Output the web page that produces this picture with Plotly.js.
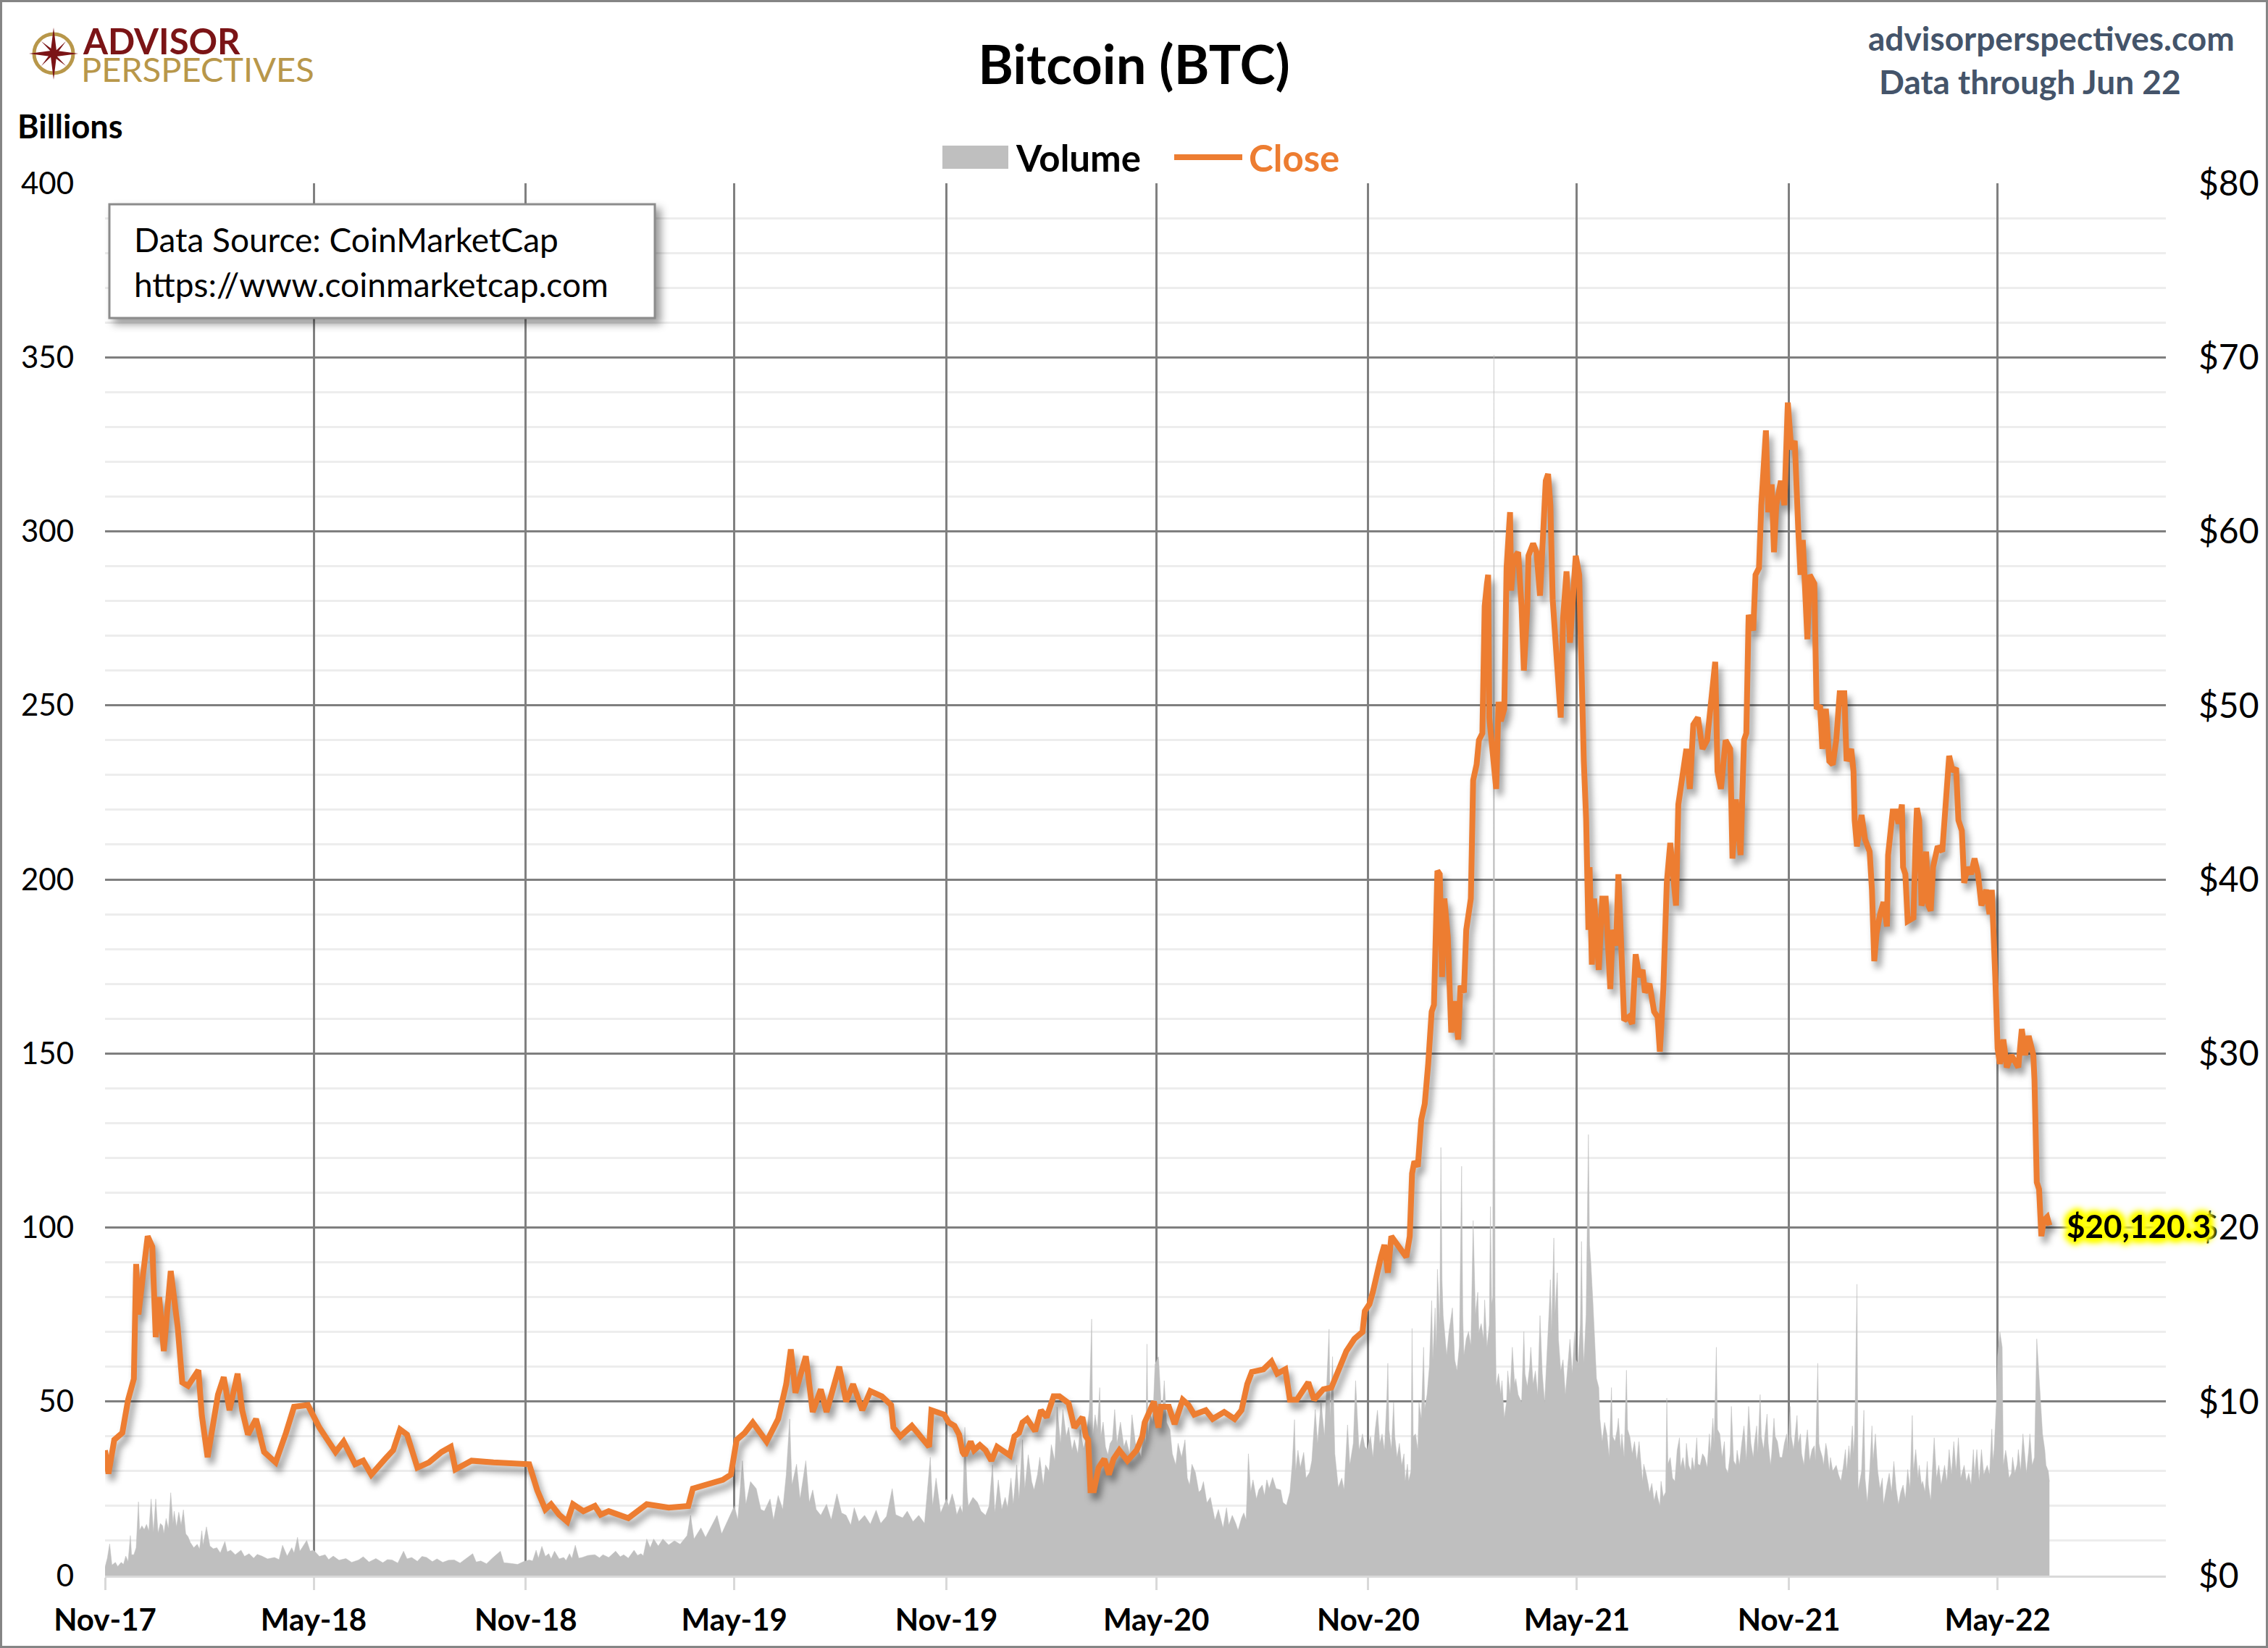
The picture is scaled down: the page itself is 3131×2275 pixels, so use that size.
<!DOCTYPE html>
<html><head><meta charset="utf-8">
<script src="https://cdn.plot.ly/plotly-3.0.1.min.js"></script>
<style>
html,body{margin:0;padding:0;background:#fff;}
#wrap{position:relative;width:3131px;height:2275px;}
#chart{width:3131px;height:2275px;}
#frame{position:absolute;left:0;top:0;width:3131px;height:2275px;box-sizing:border-box;border:3px solid #858585;pointer-events:none;}
</style>
</head><body>
<div id="wrap"><div id="chart"></div><div id="frame"></div></div>
<script>
// ---------------- DATA ----------------
const chartTitle = 'Bitcoin (BTC)';
const seriesNames = ['Volume', 'Close'];
const leftAxisLabel = 'Billions';
const siteLabel = 'advisorperspectives.com';
const dataThroughLabel = 'Data through Jun 22';
const sourceLines = ['Data Source: CoinMarketCap', 'https://www.coinmarketcap.com'];
const lastCloseLabel = '$20,120.3';
const xRange = ['2017-11-01', '2022-09-24'];

// Close price, thousands of US$ (right axis)
const closeDates = [
'2017-11-01','2017-11-04','2017-11-09','2017-11-16','2017-11-21','2017-11-26','2017-11-28','2017-11-30','2017-12-04','2017-12-08',
'2017-12-12','2017-12-15','2017-12-18','2017-12-22','2017-12-28','2018-01-03','2018-01-07','2018-01-12','2018-01-21','2018-01-24',
'2018-01-29','2018-02-03','2018-02-07','2018-02-12','2018-02-17','2018-02-24','2018-02-28','2018-03-05','2018-03-12','2018-03-19',
'2018-03-29','2018-04-07','2018-04-14','2018-04-26','2018-05-06','2018-05-13','2018-05-20','2018-05-27','2018-06-06','2018-06-13',
'2018-06-20','2018-07-02','2018-07-09','2018-07-15','2018-07-21','2018-07-30','2018-08-09','2018-08-20','2018-08-28','2018-09-01',
'2018-09-15','2018-10-04','2018-10-23','2018-11-04','2018-11-11','2018-11-18','2018-11-23','2018-11-30','2018-12-07','2018-12-12',
'2018-12-21','2018-12-31','2019-01-05','2019-01-12','2019-01-29','2019-02-14','2019-03-05','2019-03-22','2019-03-26','2019-04-07',
'2019-04-21','2019-04-28','2019-05-03','2019-05-10','2019-05-17','2019-05-29','2019-06-08','2019-06-15','2019-06-19','2019-06-23',
'2019-06-28','2019-07-02','2019-07-08','2019-07-15','2019-07-20','2019-07-31','2019-08-06','2019-08-12','2019-08-20','2019-08-27',
'2019-09-06','2019-09-14','2019-09-16','2019-09-22','2019-10-02','2019-10-11','2019-10-17','2019-10-19','2019-10-30',
'2019-11-03','2019-11-08','2019-11-12','2019-11-15','2019-11-17','2019-11-22','2019-11-25','2019-11-30','2019-12-05','2019-12-10',
'2019-12-15','2019-12-20','2019-12-26','2019-12-30','2020-01-03','2020-01-06','2020-01-10','2020-01-17','2020-01-22','2020-01-27',
'2020-02-02','2020-02-07','2020-02-15','2020-02-20','2020-02-27','2020-03-01','2020-03-03','2020-03-05','2020-03-08','2020-03-12',
'2020-03-17','2020-03-21','2020-03-25','2020-03-30','2020-04-06','2020-04-14','2020-04-19','2020-04-21','2020-04-29','2020-05-03',
'2020-05-05','2020-05-12','2020-05-17','2020-05-24','2020-05-29','2020-06-03','2020-06-13','2020-06-19','2020-06-29','2020-07-08',
'2020-07-14','2020-07-19','2020-07-23','2020-08-02','2020-08-09','2020-08-14','2020-08-21','2020-08-25','2020-08-31','2020-09-10',
'2020-09-15','2020-09-23','2020-09-30','2020-10-05','2020-10-13','2020-10-20',
'2020-10-27','2020-10-29','2020-11-02','2020-11-05','2020-11-09','2020-11-12','2020-11-15','2020-11-18','2020-11-21','2020-11-24',
'2020-11-27','2020-12-01','2020-12-04','2020-12-07','2020-12-09','2020-12-11','2020-12-14','2020-12-17','2020-12-20','2020-12-23',
'2020-12-26','2020-12-28','2020-12-31','2021-01-02','2021-01-04','2021-01-06','2021-01-09','2021-01-12','2021-01-15','2021-01-18',
'2021-01-20','2021-01-23','2021-01-25','2021-01-29','2021-01-31','2021-02-03','2021-02-05','2021-02-08','2021-02-09','2021-02-10',
'2021-02-12','2021-02-13','2021-02-14','2021-02-17','2021-02-20','2021-02-22','2021-02-24','2021-02-27','2021-03-01','2021-03-04',
'2021-03-05','2021-03-07','2021-03-11','2021-03-14','2021-03-16','2021-03-19','2021-03-20','2021-03-24','2021-03-27','2021-03-30',
'2021-04-01','2021-04-04','2021-04-06','2021-04-08','2021-04-10','2021-04-14','2021-04-17','2021-04-19','2021-04-22','2021-04-25',
'2021-04-27','2021-04-30','2021-05-03','2021-05-05','2021-05-07','2021-05-09','2021-05-11','2021-05-12','2021-05-14','2021-05-16',
'2021-05-20','2021-05-23','2021-05-26','2021-05-28','2021-05-30','2021-06-01','2021-06-04','2021-06-06','2021-06-09','2021-06-11',
'2021-06-15','2021-06-18','2021-06-21','2021-06-24','2021-06-27','2021-06-29','2021-07-03','2021-07-07','2021-07-10','2021-07-12',
'2021-07-15','2021-07-18','2021-07-21','2021-07-26','2021-07-28','2021-08-01','2021-08-04','2021-08-07','2021-08-10','2021-08-14',
'2021-08-18','2021-08-22','2021-08-26','2021-08-29','2021-08-31','2021-09-03','2021-09-07','2021-09-11','2021-09-13','2021-09-16',
'2021-09-20','2021-09-23','2021-09-25','2021-09-27','2021-10-01','2021-10-03','2021-10-06','2021-10-08','2021-10-12','2021-10-14',
'2021-10-17','2021-10-19','2021-10-21','2021-10-25','2021-10-28','2021-10-31','2021-11-03','2021-11-06',
'2021-11-09','2021-11-11','2021-11-13','2021-11-15','2021-11-17','2021-11-19','2021-11-23','2021-11-25','2021-11-28','2021-11-30',
'2021-12-03','2021-12-06','2021-12-09','2021-12-12','2021-12-15','2021-12-19','2021-12-21','2021-12-25','2021-12-27','2021-12-28',
'2021-12-30','2022-01-03','2022-01-06','2022-01-10','2022-01-12','2022-01-14','2022-01-16','2022-01-19','2022-01-22','2022-01-25',
'2022-01-26','2022-01-30','2022-02-02','2022-02-04','2022-02-07','2022-02-08','2022-02-10','2022-02-12','2022-02-17','2022-02-19',
'2022-02-20','2022-02-22','2022-02-24','2022-02-26','2022-02-28','2022-03-02','2022-03-04','2022-03-06','2022-03-10','2022-03-14',
'2022-03-16','2022-03-18','2022-03-20','2022-03-23','2022-03-26','2022-03-28','2022-03-31','2022-04-02','2022-04-05','2022-04-08',
'2022-04-11','2022-04-14','2022-04-17','2022-04-21','2022-04-24','2022-04-26','2022-04-27','2022-04-29','2022-05-01','2022-05-03',
'2022-05-06','2022-05-09','2022-05-13','2022-05-16','2022-05-19','2022-05-22','2022-05-25','2022-05-28','2022-06-01','2022-06-02',
'2022-06-04','2022-06-06','2022-06-08','2022-06-10','2022-06-13','2022-06-15'];
const closeValues = [
7.2,5.85,7.8,8.2,10.1,11.3,17.9,15.0,17.3,19.5,
18.9,13.7,16.0,12.9,17.5,14.3,11.1,10.9,11.8,9.2,
6.8,8.7,10.4,11.4,9.5,11.6,9.5,8.1,9.0,7.1,
6.5,8.2,9.7,9.8,8.5,7.8,7.1,7.7,6.4,6.6,
5.8,6.7,7.2,8.4,8.1,6.2,6.5,7.1,7.4,6.1,
6.6,6.5,6.4,6.4,4.9,3.8,4.1,3.5,3.1,4.1,
3.7,4.0,3.5,3.7,3.3,4.1,3.9,4.0,5.0,5.2,
5.5,5.8,7.8,8.2,8.8,7.7,9.0,11.0,13.0,10.5,
11.8,12.6,9.4,10.7,9.4,12.0,10.0,11.0,9.5,10.6,
10.3,9.8,8.5,8.0,8.6,7.95,7.4,9.5,9.25,
8.8,8.6,8.1,7.1,6.9,7.7,7.2,7.5,7.2,6.6,
7.4,7.2,6.9,8.0,8.2,8.8,9.0,8.3,9.5,9.1,
10.3,10.3,9.9,8.5,9.1,8.0,7.8,4.9,4.9,6.2,
6.7,5.8,6.7,7.2,6.6,7.2,8.0,8.8,10.0,8.5,
9.7,9.7,8.7,10.1,9.8,9.25,9.5,9.0,9.4,9.0,
9.5,11.0,11.7,11.85,12.3,11.6,11.85,10.1,10.1,11.1,
10.1,10.7,10.8,11.6,12.9,13.6,
14.0,15.2,15.6,16.3,17.6,18.3,19.0,17.4,19.5,19.2,
19.0,18.6,18.3,19.5,23.1,23.8,23.5,26.2,27.1,29.4,
32.4,32.8,40.5,40.3,34.4,38.9,36.7,31.2,33.0,30.8,
33.9,33.5,37.1,38.9,45.7,46.6,48.0,48.4,52.0,55.7,
57.0,57.5,49.3,47.1,45.2,50.2,49.1,49.8,57.9,61.1,
56.6,58.4,58.8,55.7,52.0,55.7,58.6,59.3,58.8,56.3,
59.7,62.9,63.3,61.5,56.1,51.6,49.3,55.0,57.7,53.6,
56.1,58.6,57.5,49.8,46.8,43.5,37.1,40.7,35.1,38.9,
34.8,38.9,38.9,36.2,33.7,37.1,36.2,40.3,35.7,31.9,
32.1,31.7,35.7,34.4,34.8,33.5,34.0,32.4,32.1,30.1,
33.7,39.8,42.1,38.5,44.3,46.2,47.5,45.2,48.9,49.3,
47.5,48.0,50.2,52.5,46.2,45.2,48.0,47.5,41.2,44.6,
41.4,48.0,48.4,55.2,54.3,57.5,57.9,61.5,65.8,61.1,
62.7,58.8,61.5,62.9,61.5,67.4,64.7,65.2,
60.2,57.5,59.5,57.0,53.8,57.5,57.0,49.8,50.0,47.5,
49.8,46.8,46.6,48.0,50.7,50.7,46.8,47.5,46.2,43.4,
41.9,43.7,42.3,41.6,39.4,35.3,36.9,38.0,38.7,37.3,
41.4,43.9,43.9,43.2,44.3,40.7,40.3,37.6,37.8,42.5,
44.1,43.4,38.5,38.9,41.6,38.5,38.2,40.7,41.9,41.6,
43.9,45.5,47.1,46.2,46.4,43.4,42.8,39.8,40.7,40.3,
41.2,40.3,38.5,39.4,38.0,39.4,36.7,34.4,30.3,29.4,
30.8,29.2,29.9,29.6,29.2,31.4,29.9,31.0,29.9,28.5,
22.6,22.2,19.5,20.4,20.6,20.12];

// Volume, billions of US$ (left axis)
const volumeDates = [
'2017-11-01','2017-11-03','2017-11-05','2017-11-07','2017-11-10','2017-11-12','2017-11-15','2017-11-17','2017-11-19','2017-11-21',
'2017-11-23','2017-11-24','2017-11-26','2017-11-28','2017-11-30','2017-12-01','2017-12-03','2017-12-05','2017-12-07','2017-12-09',
'2017-12-11','2017-12-13','2017-12-15','2017-12-17','2017-12-19','2017-12-21','2017-12-22','2017-12-24','2017-12-26','2017-12-28',
'2017-12-30','2017-12-31','2018-01-02','2018-01-04','2018-01-06','2018-01-08','2018-01-10','2018-01-12','2018-01-14','2018-01-17',
'2018-01-20','2018-01-22','2018-01-24','2018-01-25','2018-01-28','2018-01-31','2018-02-03','2018-02-06','2018-02-09','2018-02-13',
'2018-02-15','2018-02-18','2018-02-22','2018-02-27','2018-03-02','2018-03-06','2018-03-10','2018-03-13','2018-03-17','2018-03-22',
'2018-03-28','2018-04-01','2018-04-04','2018-04-08','2018-04-12','2018-04-14','2018-04-17','2018-04-19','2018-04-21','2018-04-25',
'2018-04-28','2018-05-01','2018-05-06','2018-05-11','2018-05-14','2018-05-18','2018-05-23','2018-05-29','2018-06-03','2018-06-09',
'2018-06-13','2018-06-18','2018-06-24','2018-06-30','2018-07-04','2018-07-08','2018-07-13','2018-07-18','2018-07-21','2018-07-25',
'2018-07-30','2018-08-03','2018-08-07','2018-08-12','2018-08-16','2018-08-21','2018-08-26','2018-08-31','2018-09-05','2018-09-10',
'2018-09-16','2018-09-19','2018-09-23','2018-09-28','2018-10-03','2018-10-10','2018-10-13','2018-10-19','2018-10-25','2018-10-30',
'2018-11-04','2018-11-07','2018-11-10','2018-11-12','2018-11-15','2018-11-18','2018-11-21','2018-11-23','2018-11-26','2018-11-30',
'2018-12-04','2018-12-06','2018-12-09','2018-12-11','2018-12-14','2018-12-17','2018-12-20','2018-12-25','2018-12-31','2019-01-04',
'2019-01-07','2019-01-12','2019-01-18','2019-01-22','2019-01-25','2019-01-29','2019-02-03','2019-02-06','2019-02-09','2019-02-11',
'2019-02-14','2019-02-17','2019-02-20',
'2019-02-24','2019-02-28','2019-03-05','2019-03-10','2019-03-15','2019-03-21','2019-03-24','2019-03-27','2019-04-02','2019-04-06',
'2019-04-10','2019-04-16','2019-04-20','2019-04-25','2019-05-01','2019-05-04','2019-05-08','2019-05-11','2019-05-15','2019-05-20',
'2019-05-24','2019-05-27','2019-06-01','2019-06-04','2019-06-08','2019-06-12','2019-06-15','2019-06-18','2019-06-20','2019-06-24',
'2019-06-27','2019-07-02','2019-07-05','2019-07-08','2019-07-11','2019-07-15','2019-07-20','2019-07-24','2019-07-29','2019-08-02',
'2019-08-06','2019-08-10','2019-08-13','2019-08-17','2019-08-22','2019-08-27','2019-09-01','2019-09-05','2019-09-10','2019-09-15',
'2019-09-18','2019-09-24','2019-09-28','2019-10-03','2019-10-08','2019-10-13','2019-10-18','2019-10-20','2019-10-23','2019-10-27',
'2019-11-01','2019-11-03','2019-11-06','2019-11-08','2019-11-10','2019-11-13','2019-11-15','2019-11-17','2019-11-19','2019-11-20',
'2019-11-24','2019-11-28','2019-12-01','2019-12-05','2019-12-08','2019-12-11','2019-12-13','2019-12-16','2019-12-19','2019-12-22',
'2019-12-24','2019-12-27','2019-12-29','2020-01-01','2020-01-03','2020-01-06','2020-01-08','2020-01-11','2020-01-14','2020-01-16',
'2020-01-19','2020-01-21','2020-01-24','2020-01-26','2020-01-29','2020-01-31','2020-02-03','2020-02-05','2020-02-08','2020-02-10',
'2020-02-13','2020-02-15','2020-02-18','2020-02-20','2020-02-23','2020-02-25','2020-02-28','2020-03-01','2020-03-04','2020-03-06',
'2020-03-07','2020-03-09','2020-03-11','2020-03-13','2020-03-14','2020-03-16','2020-03-18','2020-03-20','2020-03-22','2020-03-24',
'2020-03-26','2020-03-28','2020-03-31','2020-04-03','2020-04-05','2020-04-08','2020-04-10','2020-04-13','2020-04-15','2020-04-18',
'2020-04-20','2020-04-22','2020-04-23','2020-04-24','2020-04-26','2020-04-28','2020-04-30','2020-05-03','2020-05-05','2020-05-06',
'2020-05-08','2020-05-10','2020-05-13','2020-05-15','2020-05-18','2020-05-20','2020-05-23','2020-05-26','2020-05-28','2020-05-30',
'2020-06-01','2020-06-04','2020-06-07','2020-06-09','2020-06-11','2020-06-14','2020-06-17','2020-06-21','2020-06-24','2020-06-28',
'2020-07-01','2020-07-03','2020-07-06','2020-07-09','2020-07-11','2020-07-14','2020-07-16','2020-07-18','2020-07-20','2020-07-22',
'2020-07-24','2020-07-27','2020-07-29','2020-08-01','2020-08-03','2020-08-05','2020-08-07','2020-08-10','2020-08-13','2020-08-17',
'2020-08-19','2020-08-22','2020-08-25','2020-08-27','2020-08-29','2020-08-30','2020-09-01','2020-09-03','2020-09-06','2020-09-08',
'2020-09-11','2020-09-13','2020-09-16','2020-09-18','2020-09-21','2020-09-24','2020-09-28','2020-09-29','2020-10-01','2020-10-03',
'2020-10-06','2020-10-09','2020-10-11','2020-10-14','2020-10-16','2020-10-19','2020-10-21','2020-10-24',
'2020-10-27','2020-10-29','2020-10-31','2020-11-03','2020-11-05','2020-11-07','2020-11-09','2020-11-11','2020-11-13','2020-11-15',
'2020-11-17','2020-11-18','2020-11-19','2020-11-21','2020-11-23','2020-11-24','2020-11-26','2020-11-28','2020-11-30','2020-12-02',
'2020-12-03','2020-12-05','2020-12-06','2020-12-08','2020-12-09','2020-12-10','2020-12-12','2020-12-14','2020-12-15','2020-12-17',
'2020-12-19','2020-12-20','2020-12-22','2020-12-24','2020-12-26','2020-12-27','2020-12-29','2020-12-30','2020-12-31','2021-01-02',
'2021-01-03','2021-01-04','2021-01-05','2021-01-07','2021-01-08','2021-01-10','2021-01-13','2021-01-15','2021-01-17','2021-01-19',
'2021-01-21','2021-01-22','2021-01-23','2021-01-25','2021-01-27','2021-01-29','2021-01-31','2021-02-02','2021-02-04','2021-02-05',
'2021-02-07','2021-02-09','2021-02-10','2021-02-12','2021-02-14','2021-02-15','2021-02-16','2021-02-17','2021-02-18','2021-02-19',
'2021-02-20','2021-02-22','2021-02-24','2021-02-25','2021-02-27','2021-03-01','2021-03-02','2021-03-04','2021-03-06','2021-03-08',
'2021-03-09','2021-03-11','2021-03-14','2021-03-16','2021-03-17','2021-03-19','2021-03-21','2021-03-22','2021-03-24','2021-03-26',
'2021-03-28','2021-03-30','2021-04-01','2021-04-03','2021-04-05','2021-04-07','2021-04-08','2021-04-09','2021-04-11','2021-04-12',
'2021-04-14','2021-04-15','2021-04-17','2021-04-19','2021-04-21','2021-04-23','2021-04-25','2021-04-27','2021-04-29','2021-04-30',
'2021-05-02','2021-05-04','2021-05-05','2021-05-06','2021-05-07','2021-05-09','2021-05-11','2021-05-12','2021-05-13','2021-05-15',
'2021-05-18','2021-05-20','2021-05-21','2021-05-23','2021-05-25','2021-05-27','2021-05-29','2021-05-31','2021-06-01','2021-06-03',
'2021-06-05','2021-06-06','2021-06-08','2021-06-09','2021-06-11','2021-06-13','2021-06-14','2021-06-16','2021-06-18','2021-06-20',
'2021-06-22','2021-06-24','2021-06-25','2021-06-27','2021-06-28','2021-06-30','2021-07-02','2021-07-03','2021-07-05','2021-07-07',
'2021-07-09','2021-07-10','2021-07-12','2021-07-13','2021-07-15','2021-07-17','2021-07-18','2021-07-19','2021-07-21','2021-07-23',
'2021-07-25','2021-07-27','2021-07-29','2021-07-30','2021-08-01','2021-08-03','2021-08-04','2021-08-06','2021-08-08','2021-08-09',
'2021-08-11','2021-08-13','2021-08-14','2021-08-16','2021-08-18','2021-08-20','2021-08-22','2021-08-24','2021-08-25','2021-08-27',
'2021-08-28','2021-08-30','2021-08-31','2021-09-02','2021-09-04','2021-09-06','2021-09-07','2021-09-09','2021-09-11','2021-09-12',
'2021-09-14','2021-09-16','2021-09-17','2021-09-19','2021-09-21','2021-09-23','2021-09-25','2021-09-27','2021-09-29','2021-10-01',
'2021-10-02','2021-10-04','2021-10-05','2021-10-07','2021-10-08','2021-10-10','2021-10-11','2021-10-13','2021-10-14','2021-10-16',
'2021-10-17','2021-10-19','2021-10-20','2021-10-22','2021-10-24','2021-10-26','2021-10-28','2021-10-30','2021-10-31','2021-11-02',
'2021-11-03','2021-11-05',
'2021-11-08','2021-11-09','2021-11-11','2021-11-12','2021-11-14','2021-11-15','2021-11-17','2021-11-19','2021-11-21','2021-11-23',
'2021-11-24','2021-11-26','2021-11-27','2021-11-28','2021-11-30','2021-12-01','2021-12-03','2021-12-04','2021-12-06','2021-12-07',
'2021-12-09','2021-12-12','2021-12-14','2021-12-16','2021-12-18','2021-12-20','2021-12-21','2021-12-23','2021-12-24','2021-12-26',
'2021-12-27','2021-12-28','2021-12-30','2021-12-31','2022-01-03','2022-01-05','2022-01-06','2022-01-08','2022-01-10','2022-01-12',
'2022-01-13','2022-01-15','2022-01-17','2022-01-19','2022-01-21','2022-01-22','2022-01-25','2022-01-27','2022-01-29','2022-01-31',
'2022-02-02','2022-02-04','2022-02-06','2022-02-08','2022-02-10','2022-02-12','2022-02-14','2022-02-16','2022-02-17','2022-02-19',
'2022-02-21','2022-02-22','2022-02-24','2022-02-25','2022-02-27','2022-03-01','2022-03-02','2022-03-04','2022-03-05','2022-03-07',
'2022-03-09','2022-03-11','2022-03-13','2022-03-16','2022-03-18','2022-03-20','2022-03-22','2022-03-24','2022-03-26','2022-03-28',
'2022-03-30','2022-04-02','2022-04-04','2022-04-06','2022-04-08','2022-04-10','2022-04-11','2022-04-13','2022-04-15','2022-04-17',
'2022-04-19','2022-04-22','2022-04-24','2022-04-26','2022-04-27','2022-04-28','2022-04-30','2022-05-01','2022-05-03','2022-05-05',
'2022-05-06','2022-05-08','2022-05-09','2022-05-11','2022-05-13','2022-05-14','2022-05-16','2022-05-18','2022-05-19','2022-05-21',
'2022-05-23','2022-05-25','2022-05-26','2022-05-28','2022-05-29','2022-05-31','2022-06-02','2022-06-04','2022-06-06','2022-06-08',
'2022-06-09','2022-06-11','2022-06-12','2022-06-14','2022-06-15'];
const volumeValues = [
2.4,5.0,9.1,3.0,3.8,2.6,3.8,3.2,5.6,4.0,
11.5,6.0,6.0,8.0,21.2,13.0,14.3,13.2,14.7,12.8,
22.0,12.5,22.0,12.2,15.0,14.3,12.0,16.4,13.5,23.8,
15.0,18.5,14.0,18.2,14.5,18.9,12.0,11.2,9.5,8.0,
9.0,7.6,12.9,8.7,14.0,8.5,7.7,8.0,6.5,9.8,
6.8,7.3,6.0,7.3,5.5,6.3,5.0,6.1,5.6,4.8,
5.2,4.6,8.7,5.6,8.0,6.5,11.0,7.0,8.0,10.1,
7.0,7.3,5.5,6.0,4.6,5.6,4.4,4.9,3.8,4.5,
5.4,3.9,4.9,3.7,4.6,4.5,3.6,7.0,4.8,5.2,
4.1,5.5,5.2,4.0,4.8,3.8,4.4,4.5,3.6,4.8,
6.3,3.9,4.2,3.4,5.0,7.0,3.7,3.5,3.2,4.0,
4.5,4.2,7.3,5.0,8.4,5.5,6.3,4.8,7.0,4.8,
5.2,4.3,6.3,4.9,8.7,5.0,5.2,5.8,6.0,5.1,
6.0,5.2,7.0,5.4,6.0,5.0,7.3,5.8,6.3,5.7,
10.5,8.0,10.5,
8.5,10.5,8.8,10.0,9.0,11.5,17.3,10.5,13.7,11.0,
13.5,17.3,12.0,15.5,20.0,16.0,33.0,20.5,27.0,25.0,
19.0,18.5,22.0,16.0,23.0,19.0,29.0,45.0,26.0,32.0,
22.0,33.0,21.0,24.6,19.0,17.3,20.5,16.0,23.5,18.0,
17.3,14.5,19.5,15.5,17.3,14.8,18.8,15.0,17.0,25.0,
17.5,16.6,18.5,15.5,17.3,15.0,34.0,20.0,28.0,18.0,
22.0,20.0,23.5,21.0,17.5,20.0,18.0,42.6,24.0,20.0,
22.5,21.0,18.5,17.3,20.0,31.8,18.0,27.5,19.0,22.5,
19.5,28.0,20.5,31.8,22.0,39.0,25.0,34.7,27.0,24.6,
29.0,34.0,26.0,31.8,30.0,37.6,33.0,48.4,38.0,47.7,
40.0,42.6,36.0,39.0,35.0,41.9,36.5,39.0,47.7,73.7,
40.0,46.2,42.0,54.0,40.0,44.1,37.0,34.7,38.0,39.0,
47.7,38.0,44.1,37.0,39.0,35.0,46.2,38.0,36.8,34.0,
42.6,38.0,66.5,40.0,46.2,44.0,60.7,62.9,49.9,45.0,
56.0,44.0,41.9,35.0,31.8,38.0,34.0,39.0,28.0,26.0,
32.0,29.6,24.0,24.6,27.0,20.9,22.5,15.9,19.0,13.7,
19.5,14.5,17.3,15.0,13.0,16.5,18.0,16.0,35.0,24.0,
27.5,22.0,24.6,26.0,23.0,27.5,25.0,28.2,25.0,24.6,
21.0,20.2,24.0,31.8,44.8,30.0,36.0,31.0,35.4,28.0,
29.6,33.0,47.7,38.0,49.9,40.0,70.8,45.0,62.9,35.0,
25.3,28.0,24.6,43.3,31.8,38.0,56.0,36.0,
40.7,37.0,36.2,40.0,33.9,42.0,47.5,38.0,40.7,36.0,
49.8,61.0,42.0,36.2,49.8,40.0,33.9,38.0,31.7,35.0,
27.1,32.0,27.1,30.0,71.0,40.0,40.7,36.0,49.8,45.0,
65.6,48.0,52.0,60.0,79.0,62.0,76.9,65.0,88.0,72.0,
123.0,85.0,74.7,68.0,63.3,70.0,76.9,62.0,58.8,66.0,
117.6,75.0,63.3,68.0,70.1,66.0,102.0,75.0,81.4,70.0,
72.4,68.0,79.2,65.6,72.0,106.0,78.0,80.0,350.7,80.0,
54.3,58.0,52.0,56.0,45.2,50.0,58.8,52.0,65.6,55.0,
56.6,52.0,49.8,70.1,58.0,54.3,60.0,65.6,55.0,58.8,
52.0,74.7,58.0,49.8,62.0,76.9,85.0,70.0,97.0,75.0,
87.0,68.0,58.8,62.0,52.0,60.0,67.9,58.0,70.1,62.0,
61.0,72.0,96.0,70.0,61.0,75.0,126.7,95.0,90.5,78.0,
56.6,54.0,45.0,38.5,44.0,40.7,33.9,54.0,40.0,38.5,
42.0,45.2,36.0,40.7,34.0,59.0,42.0,39.8,35.0,38.5,
33.0,38.5,34.0,27.0,32.0,29.4,26.0,23.8,26.5,21.5,
24.5,22.6,20.0,27.1,22.6,24.0,51.0,32.0,33.9,28.0,
27.1,36.0,39.6,31.0,33.9,30.0,38.0,31.7,30.0,33.9,
30.5,39.6,32.0,31.7,35.0,33.9,31.0,40.7,35.0,45.2,
38.0,65.6,42.0,40.7,34.0,38.5,31.0,29.4,35.0,48.6,
33.0,31.7,36.0,31.7,38.0,43.0,33.0,48.6,38.0,33.9,
38.0,43.0,35.0,52.0,40.0,36.2,40.0,46.4,38.0,31.7,
35.0,45.2,40.0,38.5,34.0,33.9,38.0,40.7,36.0,48.6,
40.0,36.2,
46.0,38.0,40.7,35.0,31.7,36.0,41.9,33.0,36.2,37.3,
33.0,61.0,38.0,36.2,34.0,31.7,38.0,36.2,30.0,33.9,
30.0,31.7,29.0,27.1,31.0,36.2,30.0,37.3,33.0,43.0,
35.0,40.7,83.7,24.4,30.0,47.5,28.0,21.0,30.0,43.0,
33.0,40.7,30.0,24.9,28.0,20.4,26.0,29.4,24.0,32.8,
25.0,20.4,24.0,26.0,22.0,30.5,25.0,46.0,30.0,36.2,
28.0,31.7,26.0,27.1,24.0,32.8,26.0,21.5,28.0,39.6,
28.0,31.7,26.0,31.7,27.0,36.2,29.0,38.5,30.0,39.6,
28.0,31.7,27.0,29.4,26.0,36.2,29.0,36.2,27.0,36.2,
29.0,31.7,29.0,42.1,33.0,36.2,50.0,63.0,70.0,65.6,
31.7,36.0,33.9,28.0,29.4,34.0,29.4,32.0,36.2,30.0,
40.7,32.0,29.4,36.0,40.7,31.7,34.0,68.0,56.6,45.0,
40.7,36.0,31.7,30.0,27.0];

// ---------------- LAYOUT HELPERS ----------------
const FONT = 'Lato, Carlito, "Open Sans", sans-serif';
const W = 3131, H = 2275;
const PL = 145, PR = 2990, PT = 253, PB = 2175;
const fx = x => (x - PL) / (PR - PL);
const fy = y => (PB - y) / (PB - PT);

const volumeTrace = {
  x: volumeDates, y: volumeValues, name: seriesNames[0],
  type: 'scatter', mode: 'lines', fill: 'tozeroy',
  fillcolor: '#BFBFBF', line: {color: '#BFBFBF', width: 0.5},
  yaxis: 'y', showlegend: false, hoverinfo: 'skip'
};
const closeTrace = {
  x: closeDates, y: closeValues, name: seriesNames[1],
  type: 'scatter', mode: 'lines',
  line: {color: '#ED7D31', width: 8, shape: 'linear'},
  yaxis: 'y2', showlegend: false, hoverinfo: 'skip'
};

const logoSvg = '<svg xmlns="http://www.w3.org/2000/svg" viewBox="0 0 68 72">' +
  '<circle cx="34" cy="36" r="27" fill="none" stroke="#B8974A" stroke-width="5"/>' +
  '<polygon points="34,0 38,32 68,36 38,40 34,72 30,40 0,36 30,32" fill="#7B1416"/>' +
  '<polygon points="17,19 36,33 51,19 37,38 51,53 32,39 17,53 31,34" fill="#7B1416"/>' +
  '</svg>';

const lastIdx = closeDates.length - 1;

const layout = {
  width: W, height: H,
  paper_bgcolor: '#FFFFFF', plot_bgcolor: '#FFFFFF',
  margin: {l: PL, r: W - PR, t: PT, b: H - PB, autoexpand: false},
  showlegend: false,
  title: {
    text: '<b>' + chartTitle + '</b>',
    font: {family: FONT, size: 74, color: '#000000'},
    x: 0.5, xref: 'container', xanchor: 'center',
    y: 1 - 90 / H, yref: 'container', yanchor: 'middle'
  },
  xaxis: {
    type: 'date', range: xRange,
    tick0: '2017-11-01', dtick: 'M6', tickformat: '%b-%y',
    showgrid: true, gridcolor: '#808080', gridwidth: 3,
    showline: true, linecolor: '#D9D9D9', linewidth: 3,
    ticks: 'outside', ticklen: 17, tickwidth: 3, tickcolor: '#D9D9D9',
    ticklabelstandoff: 6,
    tickfont: {family: FONT, size: 42, color: '#000000', weight: 'bold'},
    zeroline: false, fixedrange: true
  },
  yaxis: {
    range: [0, 400], dtick: 50, tick0: 0,
    showgrid: true, gridcolor: '#7F7F7F', gridwidth: 3,
    minor: {dtick: 10, showgrid: true, gridcolor: '#EDEDED', gridwidth: 3, ticks: ''},
    zeroline: false, showline: false, ticks: '',
    ticklabelstandoff: 42,
    tickfont: {family: FONT, size: 42, color: '#000000'}
  },
  yaxis2: {
    range: [0, 80], dtick: 10, tick0: 0, overlaying: 'y', side: 'right',
    tickprefix: '$', showgrid: false, zeroline: false, showline: false, ticks: '',
    ticklabelstandoff: 44,
    tickfont: {family: FONT, size: 48, color: '#000000'}
  },
  shapes: [
    {type: 'rect', xref: 'paper', yref: 'paper', x0: fx(151), x1: fx(904), y0: fy(439), y1: fy(282),
     fillcolor: '#FFFFFF', line: {color: '#8C8C8C', width: 3}, layer: 'above'},
    {type: 'rect', xref: 'paper', yref: 'paper', x0: fx(1301), x1: fx(1392), y0: fy(233), y1: fy(201),
     fillcolor: '#BFBFBF', line: {width: 0}, layer: 'above'},
    {type: 'line', xref: 'paper', yref: 'paper', x0: fx(1621), x1: fx(1715), y0: fy(217), y1: fy(217),
     line: {color: '#ED7D31', width: 8}, layer: 'above'}
  ],
  images: [
    {source: 'data:image/svg+xml;utf8,' + encodeURIComponent(logoSvg),
     xref: 'paper', yref: 'paper', x: fx(40), y: fy(38), sizex: 68 / (PR - PL), sizey: 72 / (PB - PT),
     xanchor: 'left', yanchor: 'top', sizing: 'stretch', layer: 'above'}
  ],
  annotations: [
    {text: '<b>' + leftAxisLabel + '</b>', xref: 'paper', yref: 'paper', x: fx(22), y: fy(174),
     xanchor: 'left', yanchor: 'middle', showarrow: false, font: {family: FONT, size: 45, color: '#000000'}},
    {text: '<b>' + siteLabel + '</b>', xref: 'paper', yref: 'paper', x: fx(2832), y: fy(52),
     xanchor: 'center', yanchor: 'middle', showarrow: false, font: {family: FONT, size: 46, color: '#44546A'}},
    {text: '<b>' + dataThroughLabel + '</b>', xref: 'paper', yref: 'paper', x: fx(2802), y: fy(112),
     xanchor: 'center', yanchor: 'middle', showarrow: false, font: {family: FONT, size: 46, color: '#44546A'}},
    {text: '<b>ADVISOR</b>', xref: 'paper', yref: 'paper', x: fx(112), y: fy(56),
     xanchor: 'left', yanchor: 'middle', showarrow: false, font: {family: FONT, size: 49, color: '#7B1416'}},
    {text: 'PERSPECTIVES', xref: 'paper', yref: 'paper', x: fx(110), y: fy(95),
     xanchor: 'left', yanchor: 'middle', showarrow: false, font: {family: FONT, size: 47, color: '#B8974A'}},
    {text: sourceLines[0], xref: 'paper', yref: 'paper', x: fx(183), y: fy(330),
     xanchor: 'left', yanchor: 'middle', showarrow: false, font: {family: FONT, size: 46, color: '#000000'}},
    {text: sourceLines[1], xref: 'paper', yref: 'paper', x: fx(183), y: fy(393),
     xanchor: 'left', yanchor: 'middle', showarrow: false, font: {family: FONT, size: 46, color: '#000000'}},
    {text: '<b>' + seriesNames[0] + '</b>', xref: 'paper', yref: 'paper', x: fx(1400), y: fy(217),
     xanchor: 'left', yanchor: 'middle', showarrow: false, font: {family: FONT, size: 51, color: '#000000'}},
    {text: '<b>' + seriesNames[1] + '</b>', xref: 'paper', yref: 'paper', x: fx(1722), y: fy(217),
     xanchor: 'left', yanchor: 'middle', showarrow: false, font: {family: FONT, size: 51, color: '#ED7D31'}},
    {text: '<b>' + lastCloseLabel + '</b>', xref: 'x', yref: 'y2',
     x: closeDates[lastIdx], y: closeValues[lastIdx], xanchor: 'left', yanchor: 'middle', xshift: 22,
     showarrow: false, font: {family: FONT, size: 44, color: '#000000'}}
  ]
};

Plotly.newPlot('chart', [volumeTrace, closeTrace], layout, {staticPlot: true, displayModeBar: false})
.then(function (gd) {
  // drop shadow under the close line (Excel-style)
  const traces = gd.querySelectorAll('g.scatterlayer g.trace');
  if (traces.length) {
    traces[traces.length - 1].style.filter = 'drop-shadow(5px 9px 5px rgba(0,0,0,0.40))';
  }
  // shadow for the data-source box
  gd.querySelectorAll('.shapelayer path[data-index="0"]').forEach(function (p) {
    p.style.filter = 'drop-shadow(7px 7px 6px rgba(0,0,0,0.40))';
  });
  // yellow glow for the last value label
  gd.querySelectorAll('.annotation-text').forEach(function (t) {
    if (t.textContent === lastCloseLabel) {
      t.style.filter = 'drop-shadow(0 0 4px #FFFF00) drop-shadow(0 0 4px #FFFF00) drop-shadow(0 0 3px #FFFF00) drop-shadow(0 0 2px #FFFF00)';
    }
  });
});
</script>
</body></html>
